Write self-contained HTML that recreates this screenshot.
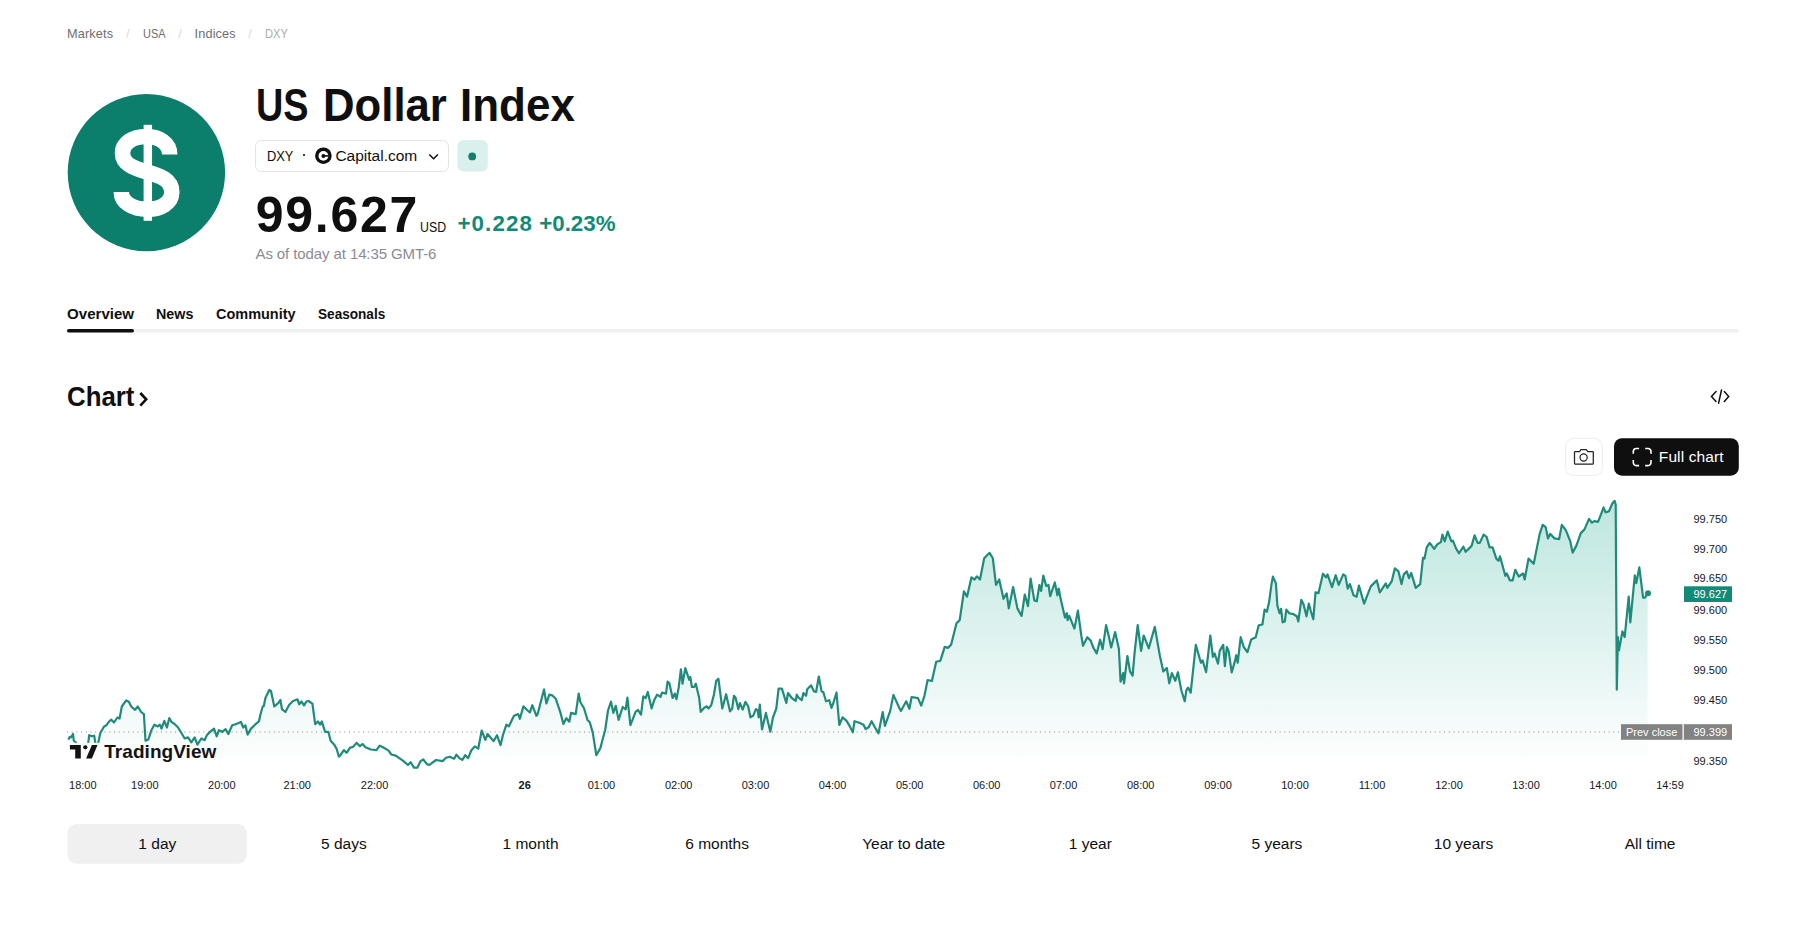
<!DOCTYPE html>
<html><head><meta charset="utf-8">
<style>
html,body{margin:0;padding:0;background:#fff;width:1812px;height:936px;overflow:hidden;position:relative}
body{font-family:"Liberation Sans",sans-serif}
.t{position:absolute;white-space:nowrap}
.c{transform:translateX(-50%)}
.abs{position:absolute}
</style></head><body>
<svg class="abs" style="left:0;top:0" width="1812" height="936" viewBox="0 0 1812 936">
  <defs>
    <linearGradient id="g" x1="0" y1="500" x2="0" y2="766" gradientUnits="userSpaceOnUse">
      <stop offset="0" stop-color="#22ab94" stop-opacity="0.30"/>
      <stop offset="1" stop-color="#22ab94" stop-opacity="0.0"/>
    </linearGradient>
  </defs>
  <!-- logo -->
  <circle cx="146.4" cy="172.6" r="78.7" fill="#0c7e6c"/>
  <path d="M169.7 154.4 C169.7 143 159 136.5 146.5 136.5 C132 136.5 122.5 143.5 122.5 153 C122.5 164 133 168 147 172 C161 176 171.8 180 171.8 192 C171.8 203 161 209.3 147.5 209.3 C132 209.3 121.3 202 121.3 192" fill="none" stroke="#fff" stroke-width="15.5"/>
  <rect x="143.6" y="124.8" width="8.45" height="96" fill="#fff"/>
  <!-- pill -->
  <rect x="255.5" y="140.5" width="193" height="31" rx="6" fill="#fff" stroke="#e3e3e3"/>
  <circle cx="304" cy="155" r="1.1" fill="#0f0f0f"/>
  <circle cx="323.4" cy="155.7" r="8.3" fill="#0f0f0f"/>
  <circle cx="323.4" cy="155.9" r="4.9" fill="#fff"/>
  <circle cx="323.4" cy="155.9" r="2" fill="#0f0f0f"/>
  <rect x="324" y="155.1" width="4.4" height="1.6" fill="#0f0f0f"/>
  <path d="M429.3 154.5 L433.6 158.8 L437.9 154.5" fill="none" stroke="#0f0f0f" stroke-width="1.5"/>
  <rect x="457.3" y="140" width="30.5" height="31.5" rx="6" fill="#daf0ec"/>
  <circle cx="472.2" cy="156.4" r="3.9" fill="#127e6d"/>
  <rect x="67.5" y="824" width="179.2" height="39.8" rx="9" fill="#f0f0f0"/>
  <!-- tabs line -->
  <rect x="67" y="329" width="1672" height="3.5" rx="1.75" fill="#f0f0f0"/>
  <rect x="67" y="329" width="67" height="3.5" rx="1.75" fill="#0f0f0f"/>
  <!-- chart chevron -->
  <path d="M140.3 393 L146.2 399.3 L140.3 405.6" fill="none" stroke="#0f0f0f" stroke-width="2.6"/>
  <!-- embed icon -->
  <path d="M1716 391.6 L1711.5 396.4 L1716 401.4 M1724.3 391.6 L1728.7 396.4 L1724.3 401.4 M1721.5 390 L1718.6 403.2" fill="none" stroke="#0f0f0f" stroke-width="1.5" stroke-linecap="round"/>
  <!-- camera button -->
  <rect x="1565.5" y="438.5" width="37" height="37" rx="8" fill="#fff" stroke="#ececec"/>
  <path d="M1575.5 451.5 H1579.6 L1580.9 449.5 H1586.3 L1587.6 451.5 H1592.5 Q1593.3 451.5 1593.3 452.3 V463.2 Q1593.3 464.1 1592.5 464.1 H1575.3 Q1574.5 464.1 1574.5 463.2 V452.3 Q1574.5 451.5 1575.5 451.5 Z" fill="none" stroke="#222" stroke-width="1.25"/>
  <circle cx="1583.6" cy="457.5" r="3.6" fill="none" stroke="#222" stroke-width="1.2"/>
  <!-- full chart -->
  <rect x="1614" y="438.2" width="124.8" height="37.5" rx="8" fill="#0f0f0f"/>
  <path d="M1633.3 453.7 V451.5 a3 3 0 0 1 3 -3 H1639.1 M1645.2 448.5 H1648 a3 3 0 0 1 3 3 V453.7 M1651 460.1 V462.6 a3 3 0 0 1 -3 3 H1645.2 M1639.1 465.6 H1636.3 a3 3 0 0 1 -3 -3 V460.1" fill="none" stroke="#fff" stroke-width="1.6"/>
  <!-- chart -->
  <path d="M68.3 739.6 L69.9 736.8 L71 737.4 L73 734 L73.8 740.7 L77.7 744.3 L82 744.3 L88.1 744 L89.2 735.2 L92 736.3 L94.2 735.7 L95.5 744 L98 744 L100.3 733 L104.2 726.4 L106.4 725.3 L108.6 722 L111.3 719.7 L114 722.5 L117.4 717.5 L119.6 718.6 L121.8 706.5 L126.2 700.4 L129 702 L131.2 706.5 L135 709.8 L137.8 706.5 L141.1 712 L143.9 714.2 L145.5 740.7 L148.3 739.6 L151.6 729.7 L154.4 724.7 L157.7 726.4 L159.9 724.7 L161.5 728.6 L164.3 720.8 L167 727.5 L169.3 718 L171.5 722 L174.8 724.2 L178.1 727.5 L181.4 733 L184.7 738.5 L188 737.4 L191.3 742.4 L194.7 737.4 L197.4 744.6 L201.3 738.5 L204.6 740.2 L206.8 735.2 L210.1 731.9 L214 728.6 L216.7 736.3 L218.9 730.2 L222.3 731.9 L225.6 729.1 L228.3 734 L232.2 725.3 L235.5 724.2 L241 722 L243.2 727.5 L245.4 725.3 L247.6 734.6 L251 728.6 L255 724.7 L258.9 721.4 L260.5 714.2 L262.7 706.5 L263.8 706 L265.5 697.7 L269.3 690 L271 691 L274.3 706.5 L278.7 702.6 L280.4 699.9 L282 709.2 L285.4 712 L289.2 704.8 L293.1 701 L297.5 699.3 L299.2 704.3 L301.4 701.5 L304.1 705.4 L306.3 701.5 L308.5 701 L312.4 703.7 L315.2 724.2 L317.9 721.4 L320.1 724.7 L321.8 721.4 L325.1 731.9 L328.4 731.9 L330.6 740.7 L334.5 745.1 L336.7 749 L338.9 756.7 L340.5 755 L343.9 750.1 L346.6 752.8 L349.9 747.9 L353.2 746.8 L356.5 742.9 L359.9 746.2 L362.6 744 L365.4 747.3 L370.9 749.5 L376.4 750.1 L379.7 745.7 L383 747.3 L388.6 750.6 L391.3 754.5 L395.7 755.6 L402.9 760.6 L407.9 765 L410.6 762.2 L414 767.7 L417.3 767.7 L420.6 761.1 L423.3 759.5 L427.2 764.4 L429.4 764.8 L436 760 L442.6 761.1 L446 757.8 L449.8 756.7 L454.1 758.7 L456.5 754.6 L459.4 758.1 L462.3 759.9 L465.3 755.2 L468.2 758.1 L471.2 750.5 L474.7 746.4 L478.2 748.7 L481.7 730.5 L485.3 739.9 L487.6 734 L493.5 741.1 L497 735.2 L500.5 745.2 L502.9 735.2 L506.4 724.6 L508.8 726.4 L514 715.8 L518.2 714.1 L519.9 718.8 L523.4 706.4 L527.6 710.5 L529.9 712.3 L532.3 705.2 L536.4 715.8 L537.5 714.6 L544 689.4 L546.4 703.5 L549.3 694.7 L552.2 695.3 L555.8 698.8 L560.5 712.9 L563.4 724 L566.3 718.2 L569.3 721.7 L571 712.9 L575.7 714.1 L578.7 693.5 L580.4 702.3 L584 708.2 L587.5 719.9 L589.8 722.3 L592.8 732.9 L596.3 755.2 L600.4 748.1 L602.8 738.7 L605.1 730.5 L608 710.5 L611 701.7 L613.3 712.9 L615.7 705.8 L618.6 719.9 L622.7 707 L625.7 709.4 L627.4 697.6 L630.4 725.2 L632.7 719.3 L635.7 711.7 L638 710 L641 714.6 L643.3 696.4 L645.6 698.2 L647.8 692 L651.6 708.5 L654.4 699.7 L657.1 694.7 L660.5 696.9 L662.1 692.5 L666 693.6 L667.6 681.5 L669.3 683.1 L672.6 698 L674.8 693.6 L676.5 699.1 L678.7 687.5 L680.9 669.3 L682.5 683.7 L685.3 668.2 L689.2 679.8 L690.3 677 L691.9 687 L694.1 687 L695.8 683.7 L699.1 697.5 L700.7 711.8 L704 708 L706.8 706.3 L708.5 708.5 L711.2 705.2 L714 694.2 L716.2 680.9 L718.4 678.7 L722.3 708.5 L726.1 694.2 L730 711.3 L732.2 708.5 L733.9 695.8 L735.5 697.5 L738.3 709.1 L739.9 703 L742.7 709.6 L745.4 701.9 L748.2 706.3 L750.4 717.3 L753.2 715.7 L755.9 709.1 L757.6 710.2 L758.7 717.3 L759.8 704.6 L762 729.5 L765.9 712.9 L770.3 731.7 L773 717.3 L776.3 708.5 L778.6 688.6 L781.9 688.6 L786.3 703 L788 693 L791.8 698 L795.7 700.8 L796.8 694.7 L798.4 697.5 L801.7 700.2 L803.4 693 L806.1 695.8 L807.2 689.2 L811.1 685.3 L813.9 691.4 L816.1 692 L818.8 676.5 L821.6 691.4 L823.3 692 L826 701.3 L829.3 700.2 L831.5 707.9 L833.7 701.9 L836.5 692.5 L839.3 725 L842.6 717.3 L846.4 720.6 L849.6 725.9 L852.8 732.3 L854.5 721.2 L859.2 722.7 L863.5 724.8 L865.6 729.1 L868.8 727 L871.6 721.2 L875.3 728 L878.5 733.4 L882.7 712 L884.9 725.9 L890.2 710.9 L893.4 694.9 L898.8 706.7 L900.9 711 L906.2 701.3 L909.4 708.8 L911.6 697 L918 698.1 L921.2 705.6 L924.4 696 L927.6 680 L931.9 681 L936.2 661.8 L940.4 660.7 L944.7 646.8 L947.9 647.9 L951.1 644.7 L956.5 623.3 L959.7 620.1 L963.9 591.3 L967.1 596.6 L971.4 577.4 L974.6 579.5 L976.8 576.3 L980 579.5 L984.2 558.2 L989.6 552.8 L992.8 558.2 L996 584.9 L999.2 579.5 L1003.5 598.8 L1006.7 593.4 L1008.8 608.4 L1013.1 587 L1017.4 608.4 L1021.6 615.9 L1024.8 594.5 L1028 606.2 L1030.6 578.5 L1034.3 600.4 L1036.8 601.3 L1039.4 585 L1041.1 591 L1043.3 575.6 L1046.2 585.9 L1048.5 585 L1050.2 596.2 L1054.8 582.5 L1057.4 595.3 L1058.7 588.5 L1060.8 599.6 L1065 617.5 L1066.8 613.2 L1067.6 620.1 L1069.3 615.8 L1074.4 628.6 L1077.9 610.7 L1081.3 635.5 L1083 645.7 L1087.3 637.2 L1090.7 640.6 L1093.2 647.4 L1096.7 653.4 L1100.1 639.7 L1102.6 649.1 L1106.1 625.2 L1108.6 635.5 L1111.2 647.4 L1115.1 632.1 L1118.9 649.1 L1120.6 681.6 L1123.2 673.1 L1124 683.3 L1127.4 656 L1130 671.4 L1132.6 675.6 L1134.6 652.6 L1137.7 625.2 L1141.1 650.9 L1143.7 635.5 L1148.8 648.3 L1151.4 638.9 L1154.8 626.9 L1159.9 656 L1163.3 671.4 L1166.8 668 L1169.3 683.3 L1171.9 673.1 L1175.3 680.8 L1177.9 672.2 L1181.3 690.2 L1184.7 701.3 L1186.4 690.2 L1188.1 687.6 L1190.7 692.7 L1195.8 644.9 L1200.9 662.8 L1202.6 660.3 L1206.1 672.2 L1210.3 635.5 L1212.9 656.8 L1214.6 653.4 L1218 663.7 L1219.7 650.9 L1223.2 644.9 L1224.9 666.2 L1226.8 647 L1228.7 651.4 L1231.7 672.4 L1234.7 661.9 L1236.2 655.2 L1237.7 662.7 L1240.7 637.2 L1243.7 647 L1247.4 652.2 L1251.2 639.5 L1255.7 637.2 L1258.7 625.3 L1262.4 624.5 L1264.6 609.6 L1266.9 611.8 L1269.1 602.1 L1271.4 584.9 L1272.9 576.6 L1275.9 583.4 L1277.4 605.8 L1279.6 613.3 L1281.1 608.8 L1282.6 622.3 L1284.8 621.5 L1286.3 609.6 L1289.3 613.3 L1293.1 614 L1296.8 616.3 L1298.3 621.5 L1301.3 599.8 L1303.5 604.3 L1306.5 616.3 L1308.8 603.6 L1311 611.8 L1313.3 619.3 L1315.5 592.4 L1318.5 593.1 L1323 573.7 L1326 577.4 L1327.5 574.4 L1332 587.1 L1335.7 575.2 L1338.7 584.9 L1343.2 574.4 L1345.4 575.9 L1347.7 588.6 L1349.9 584.1 L1353.6 595.3 L1356.6 596.8 L1358.9 585.6 L1364.1 603.6 L1370.8 586.4 L1376.8 580.4 L1379.8 592.4 L1385.8 583.4 L1387.3 587.9 L1391.8 581.1 L1394.8 568.4 L1398.5 571.4 L1401.5 584.1 L1403.8 574.4 L1406.8 571.4 L1409 578.1 L1411.2 572.9 L1415.7 587.9 L1420.2 584.1 L1423 557.8 L1424.5 558.6 L1426.7 547.4 L1429.7 542.9 L1434.2 548.9 L1437.2 544.4 L1440.9 542.1 L1442.4 534.6 L1444.7 541.4 L1447.7 531.6 L1451.4 541.4 L1452.9 540.6 L1455.9 548.1 L1458.9 553.3 L1463.4 546.6 L1465.6 551.8 L1468.6 548.9 L1471.6 545.9 L1474.6 535.4 L1477.6 542.9 L1479.8 542.9 L1483.6 534.6 L1486.6 536.9 L1489.6 547.4 L1492.6 547.4 L1496.3 558.6 L1498.5 560.8 L1500 556.3 L1505.3 575.8 L1506.8 573.5 L1509.8 580.3 L1512.7 580.3 L1515.3 569.8 L1518.7 576.5 L1523.2 573.5 L1524.7 579.5 L1528.5 558.6 L1533.7 563.8 L1539.7 533.9 L1542.7 524.9 L1545.7 527.2 L1547.9 538.4 L1550.1 533.9 L1554.6 538.4 L1559.1 539.1 L1561.8 524.9 L1565.8 530.2 L1570.3 541.4 L1572.6 552.6 L1576.3 545.9 L1580.8 533.1 L1584.5 529.4 L1589 518.9 L1592 522.7 L1594.3 521.2 L1598 521.9 L1601 514.4 L1603.5 507.5 L1605.6 512.4 L1609 511.3 L1612.3 503.5 L1614.6 500.8 L1615.7 504.6 L1616.8 689.7 L1617.9 637 L1619 650.4 L1622.4 631.4 L1624.7 637 L1628.7 596.6 L1630.3 622.4 L1634.8 575.3 L1636.3 583.1 L1639.3 567.4 L1643.1 597.7 L1644.9 597.7 L1647.6 593.2 L1647.6 766 L68.3 766 Z" fill="url(#g)" stroke="none"/>
  <line x1="67" y1="732" x2="1621" y2="732" stroke="#858585" stroke-width="1" stroke-dasharray="1 3.7"/>
  <path d="M68.3 739.6 L69.9 736.8 L71 737.4 L73 734 L73.8 740.7 L77.7 744.3 L82 744.3 L88.1 744 L89.2 735.2 L92 736.3 L94.2 735.7 L95.5 744 L98 744 L100.3 733 L104.2 726.4 L106.4 725.3 L108.6 722 L111.3 719.7 L114 722.5 L117.4 717.5 L119.6 718.6 L121.8 706.5 L126.2 700.4 L129 702 L131.2 706.5 L135 709.8 L137.8 706.5 L141.1 712 L143.9 714.2 L145.5 740.7 L148.3 739.6 L151.6 729.7 L154.4 724.7 L157.7 726.4 L159.9 724.7 L161.5 728.6 L164.3 720.8 L167 727.5 L169.3 718 L171.5 722 L174.8 724.2 L178.1 727.5 L181.4 733 L184.7 738.5 L188 737.4 L191.3 742.4 L194.7 737.4 L197.4 744.6 L201.3 738.5 L204.6 740.2 L206.8 735.2 L210.1 731.9 L214 728.6 L216.7 736.3 L218.9 730.2 L222.3 731.9 L225.6 729.1 L228.3 734 L232.2 725.3 L235.5 724.2 L241 722 L243.2 727.5 L245.4 725.3 L247.6 734.6 L251 728.6 L255 724.7 L258.9 721.4 L260.5 714.2 L262.7 706.5 L263.8 706 L265.5 697.7 L269.3 690 L271 691 L274.3 706.5 L278.7 702.6 L280.4 699.9 L282 709.2 L285.4 712 L289.2 704.8 L293.1 701 L297.5 699.3 L299.2 704.3 L301.4 701.5 L304.1 705.4 L306.3 701.5 L308.5 701 L312.4 703.7 L315.2 724.2 L317.9 721.4 L320.1 724.7 L321.8 721.4 L325.1 731.9 L328.4 731.9 L330.6 740.7 L334.5 745.1 L336.7 749 L338.9 756.7 L340.5 755 L343.9 750.1 L346.6 752.8 L349.9 747.9 L353.2 746.8 L356.5 742.9 L359.9 746.2 L362.6 744 L365.4 747.3 L370.9 749.5 L376.4 750.1 L379.7 745.7 L383 747.3 L388.6 750.6 L391.3 754.5 L395.7 755.6 L402.9 760.6 L407.9 765 L410.6 762.2 L414 767.7 L417.3 767.7 L420.6 761.1 L423.3 759.5 L427.2 764.4 L429.4 764.8 L436 760 L442.6 761.1 L446 757.8 L449.8 756.7 L454.1 758.7 L456.5 754.6 L459.4 758.1 L462.3 759.9 L465.3 755.2 L468.2 758.1 L471.2 750.5 L474.7 746.4 L478.2 748.7 L481.7 730.5 L485.3 739.9 L487.6 734 L493.5 741.1 L497 735.2 L500.5 745.2 L502.9 735.2 L506.4 724.6 L508.8 726.4 L514 715.8 L518.2 714.1 L519.9 718.8 L523.4 706.4 L527.6 710.5 L529.9 712.3 L532.3 705.2 L536.4 715.8 L537.5 714.6 L544 689.4 L546.4 703.5 L549.3 694.7 L552.2 695.3 L555.8 698.8 L560.5 712.9 L563.4 724 L566.3 718.2 L569.3 721.7 L571 712.9 L575.7 714.1 L578.7 693.5 L580.4 702.3 L584 708.2 L587.5 719.9 L589.8 722.3 L592.8 732.9 L596.3 755.2 L600.4 748.1 L602.8 738.7 L605.1 730.5 L608 710.5 L611 701.7 L613.3 712.9 L615.7 705.8 L618.6 719.9 L622.7 707 L625.7 709.4 L627.4 697.6 L630.4 725.2 L632.7 719.3 L635.7 711.7 L638 710 L641 714.6 L643.3 696.4 L645.6 698.2 L647.8 692 L651.6 708.5 L654.4 699.7 L657.1 694.7 L660.5 696.9 L662.1 692.5 L666 693.6 L667.6 681.5 L669.3 683.1 L672.6 698 L674.8 693.6 L676.5 699.1 L678.7 687.5 L680.9 669.3 L682.5 683.7 L685.3 668.2 L689.2 679.8 L690.3 677 L691.9 687 L694.1 687 L695.8 683.7 L699.1 697.5 L700.7 711.8 L704 708 L706.8 706.3 L708.5 708.5 L711.2 705.2 L714 694.2 L716.2 680.9 L718.4 678.7 L722.3 708.5 L726.1 694.2 L730 711.3 L732.2 708.5 L733.9 695.8 L735.5 697.5 L738.3 709.1 L739.9 703 L742.7 709.6 L745.4 701.9 L748.2 706.3 L750.4 717.3 L753.2 715.7 L755.9 709.1 L757.6 710.2 L758.7 717.3 L759.8 704.6 L762 729.5 L765.9 712.9 L770.3 731.7 L773 717.3 L776.3 708.5 L778.6 688.6 L781.9 688.6 L786.3 703 L788 693 L791.8 698 L795.7 700.8 L796.8 694.7 L798.4 697.5 L801.7 700.2 L803.4 693 L806.1 695.8 L807.2 689.2 L811.1 685.3 L813.9 691.4 L816.1 692 L818.8 676.5 L821.6 691.4 L823.3 692 L826 701.3 L829.3 700.2 L831.5 707.9 L833.7 701.9 L836.5 692.5 L839.3 725 L842.6 717.3 L846.4 720.6 L849.6 725.9 L852.8 732.3 L854.5 721.2 L859.2 722.7 L863.5 724.8 L865.6 729.1 L868.8 727 L871.6 721.2 L875.3 728 L878.5 733.4 L882.7 712 L884.9 725.9 L890.2 710.9 L893.4 694.9 L898.8 706.7 L900.9 711 L906.2 701.3 L909.4 708.8 L911.6 697 L918 698.1 L921.2 705.6 L924.4 696 L927.6 680 L931.9 681 L936.2 661.8 L940.4 660.7 L944.7 646.8 L947.9 647.9 L951.1 644.7 L956.5 623.3 L959.7 620.1 L963.9 591.3 L967.1 596.6 L971.4 577.4 L974.6 579.5 L976.8 576.3 L980 579.5 L984.2 558.2 L989.6 552.8 L992.8 558.2 L996 584.9 L999.2 579.5 L1003.5 598.8 L1006.7 593.4 L1008.8 608.4 L1013.1 587 L1017.4 608.4 L1021.6 615.9 L1024.8 594.5 L1028 606.2 L1030.6 578.5 L1034.3 600.4 L1036.8 601.3 L1039.4 585 L1041.1 591 L1043.3 575.6 L1046.2 585.9 L1048.5 585 L1050.2 596.2 L1054.8 582.5 L1057.4 595.3 L1058.7 588.5 L1060.8 599.6 L1065 617.5 L1066.8 613.2 L1067.6 620.1 L1069.3 615.8 L1074.4 628.6 L1077.9 610.7 L1081.3 635.5 L1083 645.7 L1087.3 637.2 L1090.7 640.6 L1093.2 647.4 L1096.7 653.4 L1100.1 639.7 L1102.6 649.1 L1106.1 625.2 L1108.6 635.5 L1111.2 647.4 L1115.1 632.1 L1118.9 649.1 L1120.6 681.6 L1123.2 673.1 L1124 683.3 L1127.4 656 L1130 671.4 L1132.6 675.6 L1134.6 652.6 L1137.7 625.2 L1141.1 650.9 L1143.7 635.5 L1148.8 648.3 L1151.4 638.9 L1154.8 626.9 L1159.9 656 L1163.3 671.4 L1166.8 668 L1169.3 683.3 L1171.9 673.1 L1175.3 680.8 L1177.9 672.2 L1181.3 690.2 L1184.7 701.3 L1186.4 690.2 L1188.1 687.6 L1190.7 692.7 L1195.8 644.9 L1200.9 662.8 L1202.6 660.3 L1206.1 672.2 L1210.3 635.5 L1212.9 656.8 L1214.6 653.4 L1218 663.7 L1219.7 650.9 L1223.2 644.9 L1224.9 666.2 L1226.8 647 L1228.7 651.4 L1231.7 672.4 L1234.7 661.9 L1236.2 655.2 L1237.7 662.7 L1240.7 637.2 L1243.7 647 L1247.4 652.2 L1251.2 639.5 L1255.7 637.2 L1258.7 625.3 L1262.4 624.5 L1264.6 609.6 L1266.9 611.8 L1269.1 602.1 L1271.4 584.9 L1272.9 576.6 L1275.9 583.4 L1277.4 605.8 L1279.6 613.3 L1281.1 608.8 L1282.6 622.3 L1284.8 621.5 L1286.3 609.6 L1289.3 613.3 L1293.1 614 L1296.8 616.3 L1298.3 621.5 L1301.3 599.8 L1303.5 604.3 L1306.5 616.3 L1308.8 603.6 L1311 611.8 L1313.3 619.3 L1315.5 592.4 L1318.5 593.1 L1323 573.7 L1326 577.4 L1327.5 574.4 L1332 587.1 L1335.7 575.2 L1338.7 584.9 L1343.2 574.4 L1345.4 575.9 L1347.7 588.6 L1349.9 584.1 L1353.6 595.3 L1356.6 596.8 L1358.9 585.6 L1364.1 603.6 L1370.8 586.4 L1376.8 580.4 L1379.8 592.4 L1385.8 583.4 L1387.3 587.9 L1391.8 581.1 L1394.8 568.4 L1398.5 571.4 L1401.5 584.1 L1403.8 574.4 L1406.8 571.4 L1409 578.1 L1411.2 572.9 L1415.7 587.9 L1420.2 584.1 L1423 557.8 L1424.5 558.6 L1426.7 547.4 L1429.7 542.9 L1434.2 548.9 L1437.2 544.4 L1440.9 542.1 L1442.4 534.6 L1444.7 541.4 L1447.7 531.6 L1451.4 541.4 L1452.9 540.6 L1455.9 548.1 L1458.9 553.3 L1463.4 546.6 L1465.6 551.8 L1468.6 548.9 L1471.6 545.9 L1474.6 535.4 L1477.6 542.9 L1479.8 542.9 L1483.6 534.6 L1486.6 536.9 L1489.6 547.4 L1492.6 547.4 L1496.3 558.6 L1498.5 560.8 L1500 556.3 L1505.3 575.8 L1506.8 573.5 L1509.8 580.3 L1512.7 580.3 L1515.3 569.8 L1518.7 576.5 L1523.2 573.5 L1524.7 579.5 L1528.5 558.6 L1533.7 563.8 L1539.7 533.9 L1542.7 524.9 L1545.7 527.2 L1547.9 538.4 L1550.1 533.9 L1554.6 538.4 L1559.1 539.1 L1561.8 524.9 L1565.8 530.2 L1570.3 541.4 L1572.6 552.6 L1576.3 545.9 L1580.8 533.1 L1584.5 529.4 L1589 518.9 L1592 522.7 L1594.3 521.2 L1598 521.9 L1601 514.4 L1603.5 507.5 L1605.6 512.4 L1609 511.3 L1612.3 503.5 L1614.6 500.8 L1615.7 504.6 L1616.8 689.7 L1617.9 637 L1619 650.4 L1622.4 631.4 L1624.7 637 L1628.7 596.6 L1630.3 622.4 L1634.8 575.3 L1636.3 583.1 L1639.3 567.4 L1643.1 597.7 L1644.9 597.7 L1647.6 593.2" fill="none" stroke="#208b7b" stroke-width="2.2" stroke-linejoin="round"/>
  <circle cx="1648" cy="593.3" r="3" fill="#208b7b"/>
  <!-- price label -->
  <rect x="1684" y="586.3" width="48" height="15.7" fill="#138a78"/>
  <!-- prev close -->
  <rect x="1621" y="724.2" width="61.5" height="15.6" fill="#828282"/>
  <rect x="1683.8" y="724.2" width="48.2" height="15.6" fill="#828282"/>
  <!-- TV logo -->
  <rect x="67" y="742.8" width="34" height="18" fill="#fff" opacity="0.92"/>
  <path d="M69.9 744.9 H80.8 V758.6 H75.2 V749.6 H69.9 Z" fill="#131313"/>
  <circle cx="85.3" cy="747.3" r="2.15" fill="#131313"/>
  <path d="M91.9 744.9 H97.5 L91.9 758.6 H86.1 Z" fill="#131313"/>
</svg>
<div class="t" style="left:67.0px;top:27.95px;font-size:12.7px;line-height:12.7px;font-weight:400;color:#6e6e6e;letter-spacing:0.167px">Markets</div>
<div class="t" style="left:142.6px;top:27.95px;font-size:12.7px;line-height:12.7px;font-weight:400;color:#6e6e6e;letter-spacing:0.000px;transform:scaleX(0.8600);transform-origin:0 0">USA</div>
<div class="t" style="left:194.6px;top:27.95px;font-size:12.7px;line-height:12.7px;font-weight:400;color:#6e6e6e;letter-spacing:0.133px">Indices</div>
<div class="t" style="left:264.6px;top:27.95px;font-size:12.7px;line-height:12.7px;font-weight:400;color:#ababab;letter-spacing:0.000px;transform:scaleX(0.8800);transform-origin:0 0">DXY</div>
<div class="t" style="left:256.0px;top:82.04px;font-size:46.5px;line-height:46.5px;font-weight:700;color:#0f0f0f;letter-spacing:0.000px;transform:scaleX(0.8133);transform-origin:0 0">US</div>
<div class="t" style="left:322.7px;top:82.04px;font-size:46.5px;line-height:46.5px;font-weight:700;color:#0f0f0f;letter-spacing:0.000px;transform:scaleX(0.9398);transform-origin:0 0">Dollar</div>
<div class="t" style="left:460.4px;top:82.04px;font-size:46.5px;line-height:46.5px;font-weight:700;color:#0f0f0f;letter-spacing:0.000px;transform:scaleX(0.9458);transform-origin:0 0">Index</div>
<div class="t" style="left:255.7px;top:189.68px;font-size:50px;line-height:50px;font-weight:700;color:#0f0f0f;letter-spacing:1.760px">99.627</div>
<div class="t" style="left:419.7px;top:219.65px;font-size:14px;line-height:14px;font-weight:400;color:#0f0f0f;letter-spacing:0.000px;transform:scaleX(0.8821);transform-origin:0 0">USD</div>
<div class="t" style="left:457.5px;top:213.12px;font-size:22.3px;line-height:22.3px;font-weight:700;color:#138a76;letter-spacing:1.100px">+0.228</div>
<div class="t" style="left:539.2px;top:213.12px;font-size:22.3px;line-height:22.3px;font-weight:700;color:#138a76;letter-spacing:0.020px">+0.23%</div>
<div class="t" style="left:255.5px;top:246.10px;font-size:15px;line-height:15px;font-weight:400;color:#8a8c93;letter-spacing:-0.100px">As of today at 14:35 GMT-6</div>
<div class="t" style="left:66.6px;top:305.88px;font-size:15.5px;line-height:15.5px;font-weight:700;color:#0f0f0f;letter-spacing:0.000px;transform:scaleX(0.9735);transform-origin:0 0">Overview</div>
<div class="t" style="left:156.1px;top:305.88px;font-size:15.5px;line-height:15.5px;font-weight:700;color:#0f0f0f;letter-spacing:0.000px;transform:scaleX(0.9231);transform-origin:0 0">News</div>
<div class="t" style="left:215.7px;top:305.88px;font-size:15.5px;line-height:15.5px;font-weight:700;color:#0f0f0f;letter-spacing:0.000px;transform:scaleX(0.9333);transform-origin:0 0">Community</div>
<div class="t" style="left:317.7px;top:305.88px;font-size:15.5px;line-height:15.5px;font-weight:700;color:#0f0f0f;letter-spacing:0.000px;transform:scaleX(0.8773);transform-origin:0 0">Seasonals</div>
<div class="t" style="left:67.4px;top:382.72px;font-size:27.5px;line-height:27.5px;font-weight:700;color:#0f0f0f;letter-spacing:0.000px;transform:scaleX(0.9394);transform-origin:0 0">Chart</div>
<div class="t" style="left:266.6px;top:147.78px;font-size:15.5px;line-height:15.5px;font-weight:400;color:#0f0f0f;letter-spacing:0.000px;transform:scaleX(0.8300);transform-origin:0 0">DXY</div>
<div class="t" style="left:335.4px;top:148.08px;font-size:15.5px;line-height:15.5px;font-weight:400;color:#0f0f0f;letter-spacing:0.000px">Capital.com</div>
<div class="t" style="left:1658.8px;top:448.88px;font-size:15.5px;line-height:15.5px;font-weight:400;color:#ffffff;letter-spacing:0.111px">Full chart</div>
<div class="t" style="left:104.2px;top:741.92px;font-size:19px;line-height:19px;font-weight:700;color:#131313;letter-spacing:0.060px">TradingView</div>
<div class="t c" style="left:127.7px;top:27.95px;font-size:12.7px;line-height:12.7px;font-weight:400;color:#dadada;">/</div>
<div class="t c" style="left:180.0px;top:27.95px;font-size:12.7px;line-height:12.7px;font-weight:400;color:#dadada;">/</div>
<div class="t c" style="left:250.0px;top:27.95px;font-size:12.7px;line-height:12.7px;font-weight:400;color:#dadada;">/</div>
<div class="t" style="left:1693.5px;top:513.99px;font-size:11px;line-height:11px;font-weight:400;color:#131722;">99.750</div>
<div class="t" style="left:1693.5px;top:543.89px;font-size:11px;line-height:11px;font-weight:400;color:#131722;">99.700</div>
<div class="t" style="left:1693.5px;top:573.39px;font-size:11px;line-height:11px;font-weight:400;color:#131722;">99.650</div>
<div class="t" style="left:1693.5px;top:604.69px;font-size:11px;line-height:11px;font-weight:400;color:#131722;">99.600</div>
<div class="t" style="left:1693.5px;top:634.89px;font-size:11px;line-height:11px;font-weight:400;color:#131722;">99.550</div>
<div class="t" style="left:1693.5px;top:665.09px;font-size:11px;line-height:11px;font-weight:400;color:#131722;">99.500</div>
<div class="t" style="left:1693.5px;top:695.29px;font-size:11px;line-height:11px;font-weight:400;color:#131722;">99.450</div>
<div class="t" style="left:1693.5px;top:756.29px;font-size:11px;line-height:11px;font-weight:400;color:#131722;">99.350</div>
<div class="t c" style="left:82.8px;top:779.69px;font-size:11px;line-height:11px;font-weight:400;color:#131722;">18:00</div>
<div class="t c" style="left:144.8px;top:779.69px;font-size:11px;line-height:11px;font-weight:400;color:#131722;">19:00</div>
<div class="t c" style="left:221.8px;top:779.69px;font-size:11px;line-height:11px;font-weight:400;color:#131722;">20:00</div>
<div class="t c" style="left:297.2px;top:779.69px;font-size:11px;line-height:11px;font-weight:400;color:#131722;">21:00</div>
<div class="t c" style="left:374.6px;top:779.69px;font-size:11px;line-height:11px;font-weight:400;color:#131722;">22:00</div>
<div class="t c" style="left:524.7px;top:779.69px;font-size:11px;line-height:11px;font-weight:700;color:#131722;">26</div>
<div class="t c" style="left:601.4px;top:779.69px;font-size:11px;line-height:11px;font-weight:400;color:#131722;">01:00</div>
<div class="t c" style="left:678.7px;top:779.69px;font-size:11px;line-height:11px;font-weight:400;color:#131722;">02:00</div>
<div class="t c" style="left:755.5px;top:779.69px;font-size:11px;line-height:11px;font-weight:400;color:#131722;">03:00</div>
<div class="t c" style="left:832.6px;top:779.69px;font-size:11px;line-height:11px;font-weight:400;color:#131722;">04:00</div>
<div class="t c" style="left:909.7px;top:779.69px;font-size:11px;line-height:11px;font-weight:400;color:#131722;">05:00</div>
<div class="t c" style="left:986.7px;top:779.69px;font-size:11px;line-height:11px;font-weight:400;color:#131722;">06:00</div>
<div class="t c" style="left:1063.6px;top:779.69px;font-size:11px;line-height:11px;font-weight:400;color:#131722;">07:00</div>
<div class="t c" style="left:1140.7px;top:779.69px;font-size:11px;line-height:11px;font-weight:400;color:#131722;">08:00</div>
<div class="t c" style="left:1218.0px;top:779.69px;font-size:11px;line-height:11px;font-weight:400;color:#131722;">09:00</div>
<div class="t c" style="left:1295.0px;top:779.69px;font-size:11px;line-height:11px;font-weight:400;color:#131722;">10:00</div>
<div class="t c" style="left:1372.0px;top:779.69px;font-size:11px;line-height:11px;font-weight:400;color:#131722;">11:00</div>
<div class="t c" style="left:1449.0px;top:779.69px;font-size:11px;line-height:11px;font-weight:400;color:#131722;">12:00</div>
<div class="t c" style="left:1526.0px;top:779.69px;font-size:11px;line-height:11px;font-weight:400;color:#131722;">13:00</div>
<div class="t c" style="left:1603.0px;top:779.69px;font-size:11px;line-height:11px;font-weight:400;color:#131722;">14:00</div>
<div class="t c" style="left:1670.0px;top:779.69px;font-size:11px;line-height:11px;font-weight:400;color:#131722;">14:59</div>
<div class="t c" style="left:157.3px;top:836.08px;font-size:15.5px;line-height:15.5px;font-weight:400;color:#0f0f0f;">1 day</div>
<div class="t c" style="left:343.9px;top:836.08px;font-size:15.5px;line-height:15.5px;font-weight:400;color:#0f0f0f;">5 days</div>
<div class="t c" style="left:530.5px;top:836.08px;font-size:15.5px;line-height:15.5px;font-weight:400;color:#0f0f0f;">1 month</div>
<div class="t c" style="left:717.1px;top:836.08px;font-size:15.5px;line-height:15.5px;font-weight:400;color:#0f0f0f;">6 months</div>
<div class="t c" style="left:903.7px;top:836.08px;font-size:15.5px;line-height:15.5px;font-weight:400;color:#0f0f0f;">Year to date</div>
<div class="t c" style="left:1090.3px;top:836.08px;font-size:15.5px;line-height:15.5px;font-weight:400;color:#0f0f0f;">1 year</div>
<div class="t c" style="left:1276.9px;top:836.08px;font-size:15.5px;line-height:15.5px;font-weight:400;color:#0f0f0f;">5 years</div>
<div class="t c" style="left:1463.5px;top:836.08px;font-size:15.5px;line-height:15.5px;font-weight:400;color:#0f0f0f;">10 years</div>
<div class="t c" style="left:1650.1px;top:836.08px;font-size:15.5px;line-height:15.5px;font-weight:400;color:#0f0f0f;">All time</div>
<div class="t" style="left:1693.5px;top:588.69px;font-size:11px;line-height:11px;font-weight:400;color:#fff">99.627</div>
<div class="t" style="left:1626px;top:726.69px;font-size:11px;line-height:11px;color:#fff">Prev close</div>
<div class="t" style="left:1693.5px;top:726.69px;font-size:11px;line-height:11px;color:#fff">99.399</div>
</body></html>
